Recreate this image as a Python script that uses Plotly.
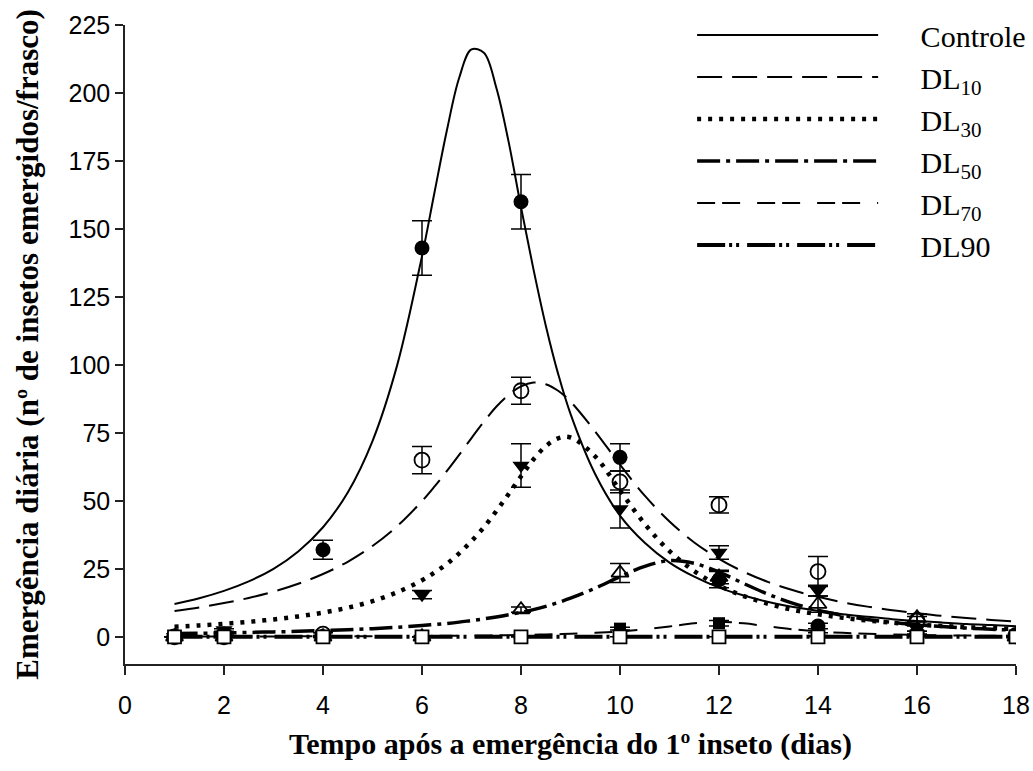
import plotly.graph_objects as go

# ---- observed data (means and error bars) ----
X_OBS = [1, 2, 4, 6, 8, 10, 12, 14, 16, 18]

CONTROLE = [0, 1, 32, 143, 160, 66, 21, 4, 1.5, 0]
CONTROLE_ERR = [0, 0.5, 3.5, 10, 10, 5, 3, 1, 0.5, 0]

DL10 = [0, 0, 1, 65, 90.5, 57, 48.5, 24, 6, 0.5]
DL10_ERR = [0, 0, 0.5, 5, 5, 4, 3, 5.5, 1.5, 0]

DL30 = [0, 2.5, 0, 15.5, 63, 47, 31, 17, 3, 0]
DL30_ERR = [0, 0.5, 0, 1.5, 8, 7, 2.5, 2, 1, 0]

DL50 = [0, 0, 0, 0, 10, 23.5, 22, 12, 7, 0]
DL50_ERR = [0, 0, 0, 0, 1, 3.5, 2.5, 3, 1.5, 0]

DL70 = [0, 1, 0, 0, 0, 3, 5, 1, 0.5, 0]
DL70_ERR = [0, 0, 0, 0, 0, 0.5, 1, 0.5, 0, 0]

DL90 = [0, 0, 0, 0, 0, 0, 0, 0, 0, 0]
DL90_ERR = [0, 0, 0, 0, 0, 0, 0, 0, 0, 0]

# ---- fitted curves ----
CURVE_X = [1, 1.5, 2, 2.5, 3, 3.5, 4, 4.5, 5, 5.5, 6, 6.25, 6.5, 6.75, 7,
           7.25, 7.5, 7.75, 8, 8.25, 8.5, 8.75, 9, 9.5, 10, 10.5, 11, 11.5,
           12, 12.5, 13, 13.5, 14, 14.5, 15, 15.5, 16, 16.5, 17, 17.5, 18]
FIT_CONTROLE = [12.1, 14.2, 16.9, 20.4, 25.0, 31.4, 40.3, 53.1, 72.0, 100,
                140, 163.2, 186, 205.5, 216, 214.8, 202, 182, 158, 135.3,
                114.5, 96.7, 82, 59.8, 44.6, 34.6, 27.3, 22.1, 18.1, 15.2,
                12.8, 11.0, 9.6, 8.3, 7.4, 6.5, 5.8, 5.3, 4.7, 4.3, 3.9]
FIT_DL10 = [9.5, 10.8, 12.4, 14.3, 16.6, 19.5, 23.1, 27.6, 33.4, 40.7, 49.9,
            55.2, 60.9, 66.9, 73.1, 79.1, 84.6, 89.0, 92.1, 93.5, 92.9, 90.5,
            86.5, 75.5, 63.3, 51.9, 42.4, 34.7, 28.7, 23.9, 20.1, 17.1, 14.7,
            12.7, 11.1, 9.8, 8.7, 7.7, 6.9, 6.2, 5.6]
FIT_DL30 = [3.7, 4.2, 4.8, 5.5, 6.4, 7.5, 8.9, 10.7, 13.1, 16.4, 20.8, 23.6,
            26.8, 30.7, 35.2, 40.3, 46.2, 52.5, 59.0, 65.2, 70.1, 73.0, 73.3,
            66.3, 53.8, 41.5, 31.5, 24.2, 18.8, 15.0, 12.1, 9.9, 8.3, 7.0,
            6.0, 5.2, 4.5, 4.0, 3.5, 3.2, 2.8]
FIT_DL50 = [1.2, 1.3, 1.45, 1.6, 1.8, 2.0, 2.3, 2.6, 3.0, 3.5, 4.2, 4.5, 4.9,
            5.4, 6.0, 6.6, 7.3, 8.1, 9.0, 10.0, 11.2, 12.6, 14.2, 17.9, 22.1,
            25.9, 28.0, 27.0, 23.8, 19.6, 15.6, 12.3, 9.8, 7.9, 6.4, 5.3, 4.5,
            3.8, 3.2, 2.8, 2.4]
FIT_DL70 = [0.10, 0.11, 0.12, 0.13, 0.15, 0.17, 0.19, 0.21, 0.24, 0.28, 0.32,
            0.35, 0.38, 0.42, 0.45, 0.50, 0.55, 0.61, 0.68, 0.76, 0.85, 0.97,
            1.10, 1.45, 1.98, 2.75, 3.81, 4.95, 5.5, 4.95, 3.81, 2.75, 1.98,
            1.45, 1.10, 0.85, 0.68, 0.55, 0.45, 0.38, 0.32]
FIT_DL90 = [0] * len(CURVE_X)

NAMES = ["Controle", "DL<sub>10</sub>", "DL<sub>30</sub>", "DL<sub>50</sub>",
         "DL<sub>70</sub>", "DL90"]

X_TICKS = [0, 2, 4, 6, 8, 10, 12, 14, 16, 18]
Y_TICKS = [0, 25, 50, 75, 100, 125, 150, 175, 200, 225]

fits = [FIT_CONTROLE, FIT_DL10, FIT_DL30, FIT_DL50, FIT_DL70, FIT_DL90]
obs = [CONTROLE, DL10, DL30, DL50, DL70, DL90]
errs = [CONTROLE_ERR, DL10_ERR, DL30_ERR, DL50_ERR, DL70_ERR, DL90_ERR]

line_styles = [
    dict(width=2, dash="solid"),
    dict(width=2, dash="25px,10px"),
    dict(width=4.5, dash="4px,7px"),
    dict(width=3.5, dash="23px,6px,4px,6px"),
    dict(width=2, dash="18px,7px,18px,17px"),
    dict(width=4, dash="28px,4px,3px,4px,3px,8px"),
]
markers = [
    dict(symbol="circle", size=15, color="black"),
    dict(symbol="circle-open", size=15, color="black", line=dict(width=1.8)),
    dict(symbol="triangle-down", size=15, color="black"),
    dict(symbol="triangle-up-open", size=15, color="black", line=dict(width=1.8)),
    dict(symbol="square", size=12, color="black"),
    dict(symbol="square", size=13, color="white",
         line=dict(width=1.8, color="black")),
]

PAD = "\u00a0" * 5

fig = go.Figure()

for name, f, ls in zip(NAMES, fits, line_styles):
    fig.add_trace(go.Scatter(
        x=CURVE_X, y=f, mode="lines", name=PAD + name,
        line=dict(color="black", shape="spline", **ls),
        showlegend=True,
    ))

for name, y, e, mk in zip(NAMES, obs, errs, markers):
    fig.add_trace(go.Scatter(
        x=X_OBS, y=y, mode="markers", name=name, showlegend=False,
        marker=mk,
        error_y=dict(type="data", array=e, visible=True, color="black",
                     thickness=1.5, width=10),
    ))

fig.update_layout(
    width=1033, height=771,
    margin=dict(l=125, r=17, t=25, b=107, autoexpand=False),
    paper_bgcolor="white", plot_bgcolor="white",
    font=dict(family="Liberation Serif", color="black"),
    legend=dict(
        x=0.6365, y=1.025, xanchor="left", yanchor="top",
        font=dict(family="Liberation Serif", size=30, color="black"),
        itemwidth=181, bgcolor="rgba(0,0,0,0)", tracegroupgap=0,
    ),
)
fig.update_xaxes(
    range=[0, 18], tickvals=X_TICKS, ticks="outside", ticklen=9,
    tickwidth=1.5, showline=True, linewidth=1.5, linecolor="#222",
    tickcolor="#222", showgrid=False, zeroline=False, ticklabelstandoff=9,
    tickfont=dict(family="Liberation Sans", size=25, color="black"),
    title=dict(text="<b>Tempo após a emergência do 1º inseto (dias)</b>",
               font=dict(family="Liberation Serif", size=30, color="black"),
               standoff=15),
)
fig.update_yaxes(
    range=[-10, 225], tickvals=Y_TICKS, ticks="outside", ticklen=8,
    tickwidth=1.5, showline=True, linewidth=1.5, linecolor="#222",
    tickcolor="#222", showgrid=False, zeroline=False,
    tickfont=dict(family="Liberation Sans", size=25, color="black"),
    title=dict(text="<b>Emergência diária (nº de insetos emergidos/frasco)</b>",
               font=dict(family="Liberation Serif", size=31, color="black"),
               standoff=21),
)

fig.write_html("out.html")
